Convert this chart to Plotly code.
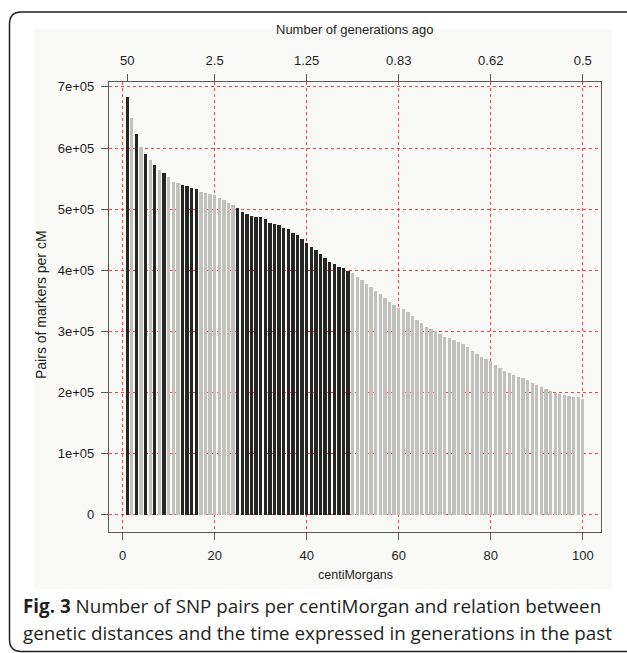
import plotly.graph_objects as go

# ---- data ----------------------------------------------------------------
centimorgans = list(range(1, 101))

# pairs of markers per cM (one value per 1-cM bin)
pairs_per_cm = [
    683000, 649000, 623000, 602000, 590000, 580000, 572000, 564500, 558500, 552000,
    545000, 542000, 539500, 538000, 535000, 533000, 528000, 527000, 525000, 523000,
    519000, 514500, 510500, 506500, 501500, 495000, 492000, 489500, 488000, 486500,
    484000, 477500, 475000, 473500, 470000, 467500, 460500, 457000, 452000, 445000,
    438500, 433000, 426000, 419500, 413500, 410000, 406000, 403000, 399000, 395000,
    388500, 384000, 377500, 372500, 365500, 360500, 354500, 349000, 343000, 338000,
    336000, 332000, 325000, 319000, 313500, 308000, 303500, 300500, 295500, 291500,
    289000, 286000, 283500, 279000, 274000, 268000, 263000, 259000, 255500, 252000,
    245000, 240000, 235500, 232500, 229000, 226000, 223500, 220500, 216000, 212500,
    209000, 206000, 202500, 200000, 197500, 195500, 194000, 192500, 192000, 189000,
]

# bins drawn in the dark colour
dark_bins = [1, 3, 5, 7, 9, 13, 14, 15, 16] + list(range(25, 50))

# bottom axis ticks (cM) and top axis ticks (generations ago)
cm_ticks = [0, 20, 40, 60, 80, 100]
gen_tick_pos = [1, 20, 40, 60, 80, 100]
gen_tick_text = ["50", "2.5", "1.25", "0.83", "0.62", "0.5"]

y_ticks = [0, 100000, 200000, 300000, 400000, 500000, 600000, 700000]
y_tick_text = ["0", "1e+05", "2e+05", "3e+05", "4e+05", "5e+05", "6e+05", "7e+05"]

# ---- styling -------------------------------------------------------------
DARK = "#252525"
LIGHT = "#c1c2be"
GRID = "rgba(255,20,20,0.8)"
AXIS = "#5a5a5a"
TXT = "#1e1e1e"
FONT = "Liberation Sans, Arial, sans-serif"
CAP_FONT = "Open Sans, Noto Sans, sans-serif"

W, H = 627, 653
L, R, T, B = 109, 26, 82, 121
PW, PH = W - L - R, H - T - B


def px(x):
    return (x - L) / PW


def py(y):
    return (H - B - y) / PH


colors = [DARK if c in dark_bins else LIGHT for c in centimorgans]

fig = go.Figure()
fig.add_trace(go.Bar(
    x=centimorgans, y=pairs_per_cm, width=0.72,
    marker=dict(color=colors, line=dict(width=0)),
    showlegend=False, hoverinfo="x+y",
))

xr = [1 - 0.04 * 99, 100 + 0.04 * 99]
yr = [-28000, 708000]

fig.update_layout(
    width=W, height=H,
    margin=dict(l=L, r=R, t=T, b=B, pad=0),
    paper_bgcolor="white",
    plot_bgcolor="#fefefd",
    bargap=0,
    xaxis=dict(
        range=xr, tickmode="array", tickvals=cm_ticks,
        ticks="outside", ticklen=7, tickwidth=1, tickcolor=AXIS,
        showline=True, linecolor=AXIS, linewidth=1.2, mirror=True,
        showgrid=True, gridcolor=GRID, griddash="dot", gridwidth=1,
        zeroline=False, ticklabelstandoff=4,
        tickfont=dict(family=FONT, size=13, color=TXT),
    ),
    xaxis2=dict(
        overlaying="x", side="top", range=xr, tickmode="array",
        tickvals=gen_tick_pos, ticktext=gen_tick_text,
        ticks="outside", ticklen=7, tickwidth=1, tickcolor=AXIS,
        showline=False, showgrid=False, zeroline=False, ticklabelstandoff=4,
        tickfont=dict(family=FONT, size=13, color=TXT),
    ),
    yaxis=dict(
        range=yr, tickmode="array", tickvals=y_ticks, ticktext=y_tick_text,
        ticks="outside", ticklen=7, tickwidth=1, tickcolor=AXIS,
        showline=True, linecolor=AXIS, linewidth=1.2, mirror=True,
        showgrid=True, gridcolor=GRID, griddash="dot", gridwidth=1,
        zeroline=False, ticklabelstandoff=4,
        tickfont=dict(family=FONT, size=13, color=TXT),
    ),
)

# an invisible trace keeps the top axis alive
fig.add_trace(go.Scatter(x=[xr[0]], y=[0], xaxis="x2", mode="markers",
                         marker=dict(opacity=0), showlegend=False, hoverinfo="skip"))

shapes = [
    # light panel behind the plotting region
    dict(type="rect", xref="paper", yref="paper", layer="below",
         x0=px(34), x1=px(612), y0=py(589), y1=py(29),
         fillcolor="#f9f9f7", line=dict(width=0)),
    # rounded frame around figure and caption
    dict(type="path", xref="paper", yref="paper", layer="above",
         path=(f"M {px(650)},{py(651.5)} L {px(21.5)},{py(651.5)} "
               f"Q {px(9.5)},{py(651.5)} {px(9.5)},{py(639.5)} "
               f"L {px(9.5)},{py(24)} Q {px(9.5)},{py(12)} {px(21.5)},{py(12)} "
               f"L {px(650)},{py(12)}"),
         line=dict(color="#222", width=1.5)),
]

cx = (L + W - R) / 2
annotations = [
    dict(text="Number of generations ago", x=px(cx), y=py(30), xref="paper", yref="paper",
         showarrow=False, xanchor="center", yanchor="middle",
         font=dict(family=FONT, size=13, color=TXT)),
    dict(text="centiMorgans", x=px(cx), y=py(575), xref="paper", yref="paper",
         showarrow=False, xanchor="center", yanchor="middle",
         font=dict(family=FONT, size=12.5, color=TXT)),
    dict(text="Pairs of markers per cM", x=px(41), y=py(305), xref="paper", yref="paper",
         showarrow=False, xanchor="center", yanchor="middle", textangle=-90,
         font=dict(family=FONT, size=14, color=TXT)),
    dict(text="<b>Fig. 3</b> Number of SNP pairs per centiMorgan and relation between",
         x=px(21), y=py(606), xref="paper", yref="paper",
         showarrow=False, xanchor="left", yanchor="middle",
         font=dict(family=CAP_FONT, size=18.8, color="#231f20")),
    dict(text="genetic distances and the time expressed in generations in the past",
         x=px(21), y=py(633), xref="paper", yref="paper",
         showarrow=False, xanchor="left", yanchor="middle",
         font=dict(family=CAP_FONT, size=18.8, color="#231f20")),
]

fig.update_layout(shapes=shapes, annotations=annotations)

fig.write_html("out.html")
